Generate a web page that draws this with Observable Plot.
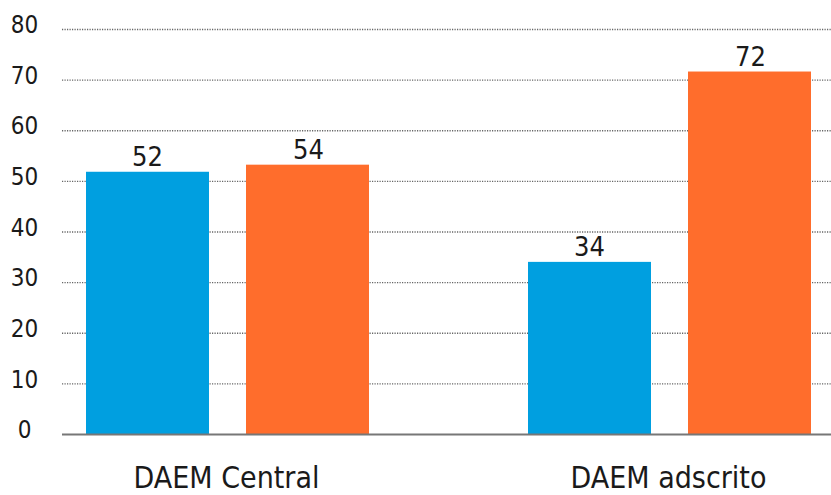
<!DOCTYPE html>
<html>
<head>
<meta charset="utf-8">
<script src="https://cdn.jsdelivr.net/npm/d3@7"></script>
<script src="https://cdn.jsdelivr.net/npm/@observablehq/plot@0.6"></script>
<style>
  html, body { margin: 0; padding: 0; background: #fff; }
  #chart svg { display: block; }
</style>
</head>
<body>
<div id="chart"></div>
<script>
const categories = ["DAEM Central", "DAEM adscrito"];
const seriesBlue = [51.8, 34.0];
const seriesOrange = [53.2, 71.6];
const labelsBlue = ["52", "34"];
const labelsOrange = ["54", "72"];
const yTicks = [0, 10, 20, 30, 40, 50, 60, 70, 80];

const blueData = categories.map((c, i) => ({category: c, value: seriesBlue[i], label: labelsBlue[i]}));
const orangeData = categories.map((c, i) => ({category: c, value: seriesOrange[i], label: labelsOrange[i]}));

const FONT = '"Liberation Sans Narrow", "DejaVu Sans Condensed", "Roboto", sans-serif';
const BLUE = "#009FE0";
const ORANGE = "#FF6D2C";
const BAR_INSET = 159;
const LABEL_DX = 80;

const chart = Plot.plot({
  width: 831,
  height: 495,
  marginLeft: 62,
  marginRight: 0,
  marginTop: 29,
  marginBottom: 61,
  style: {fontFamily: FONT, background: "#fff", color: "#1a1a1a"},
  x: {domain: categories, paddingInner: 0.363, paddingOuter: 0.05, axis: null, label: null},
  y: {domain: [0, 80], axis: null, label: null},
  marks: [
    Plot.ruleY(yTicks.filter(d => d !== 0), {stroke: "#666", strokeWidth: 1.4, strokeDasharray: "1.2,1.3"}),
    Plot.axisY(yTicks, {tickSize: 0, tickPadding: 38, textAnchor: "middle", fontSize: 24, dy: -4, fill: "#1a1a1a", label: null}),
    Plot.barY(blueData, {x: "category", y: "value", fill: BLUE, insetRight: BAR_INSET, dx: 1}),
    Plot.barY(orangeData, {x: "category", y: "value", fill: ORANGE, insetLeft: BAR_INSET, dx: 2}),
    Plot.ruleY([0], {stroke: "#777", strokeWidth: 2}),
    Plot.text(blueData, {x: "category", y: "value", text: "label", dx: -LABEL_DX + 1, dy: -6, lineAnchor: "bottom", fontSize: 27, fill: "#1a1a1a"}),
    Plot.text(orangeData, {x: "category", y: "value", text: "label", dx: LABEL_DX + 2, dy: -6, lineAnchor: "bottom", fontSize: 27, fill: "#1a1a1a"}),
    Plot.axisX(categories, {tickSize: 0, tickPadding: 32, fontSize: 30, fill: "#1a1a1a", label: null})
  ]
});
document.getElementById("chart").appendChild(chart);
</script>
</body>
</html>
